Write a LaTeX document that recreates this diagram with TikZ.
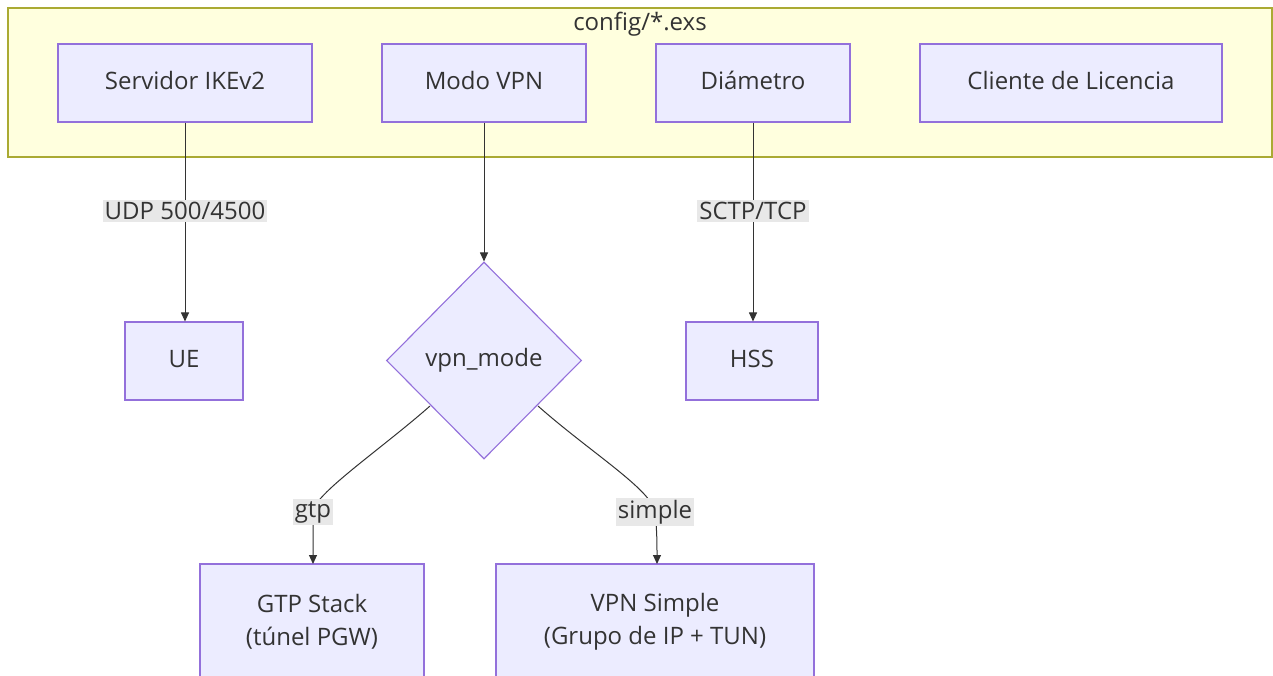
\documentclass[tikz,border=0pt]{standalone}
\usepackage{fontspec}
\setmainfont{Open Sans}
\usetikzlibrary{shapes.geometric,arrows.meta}
\definecolor{nodefill}{HTML}{ECECFF}
\definecolor{nodeline}{HTML}{9370DB}
\definecolor{clfill}{HTML}{FFFFDE}
\definecolor{clline}{HTML}{AAAA33}
\definecolor{txt}{HTML}{333333}
\definecolor{edge}{HTML}{333333}
\definecolor{lblbg}{HTML}{E8E8E8}
\begin{document}
\begin{tikzpicture}[x=1pt,y=-1pt,
  every node/.style={text=txt,font=\fontsize{24}{33}\selectfont},
  box/.style={draw=nodeline,fill=nodefill,line width=1.1pt,rectangle,inner sep=0pt,align=center},
  one/.style={text height=17pt,text depth=5pt},
  dia/.style={draw=nodeline,fill=nodefill,line width=1.1pt,diamond,aspect=1,inner sep=0pt,minimum width=195pt,minimum height=197pt},
  lbl/.style={fill=lblbg,inner sep=2pt},
  conn/.style={draw=edge,line width=1pt,-{Triangle[length=9pt,width=8pt]}}]
\useasboundingbox (0,0) rectangle (1273,675);
\fill[white] (0,0) rectangle (1273,675);
\begin{scope}
\clip (0,0) rectangle (1273,675);
\node[draw=clline,fill=clfill,line width=1.1pt,minimum width=1264pt,minimum height=149pt,inner sep=0pt] (cluster) at (640,82.5) {};
\node[one] (ctitle) at (640,24) {config/*.exs};
\node[box,one,minimum width=254pt,minimum height=78pt] (ike) at (185,83) {Servidor IKEv2};
\node[box,one,minimum width=204pt,minimum height=78pt] (modo) at (484,83) {Modo VPN};
\node[box,one,minimum width=194pt,minimum height=78pt] (diam) at (753,83) {Diámetro};
\node[box,one,minimum width=302pt,minimum height=78pt] (lic) at (1071,83) {Cliente de Licencia};
\node[box,one,minimum width=118pt,minimum height=78pt] (ue) at (184,361) {UE};
\node[dia,one] (vpn) at (484,360.5) {vpn\_mode};
\node[box,one,minimum width=132pt,minimum height=78pt] (hss) at (752,361) {HSS};
\node[box,minimum width=224pt,minimum height=116pt] (gtp) at (312,622) {GTP Stack\\(túnel PGW)};
\node[box,minimum width=318pt,minimum height=116pt] (simple) at (655,622) {VPN Simple\\(Grupo de IP + TUN)};
\draw[conn] (ike.south) -- node[lbl,pos=0.445] (l1) {UDP 500/4500} (ike.south |- ue.north);
\draw[conn] (modo.south) -- (vpn.north);
\draw[conn] (diam.south) -- node[lbl,pos=0.445] (l2) {SCTP/TCP} (diam.south |- hss.north);
\coordinate (g1) at (313,512);
\coordinate (s1) at (655,512);
\draw[conn] (vpn.south west) ++(-5,-4) coordinate (gs) .. controls (380,450) and (313,495) .. (g1) .. controls (313,530) and (313,545) .. (313,564);
\node[lbl] (lg) at (g1) {gtp};
\draw[conn] (vpn.south east) ++(5,-4) coordinate (ss) .. controls (590,452) and (652,490) .. (s1) .. controls (657,530) and (657,545) .. (657,564);
\node[lbl] (ls) at (s1) {simple};
\end{scope}
\end{tikzpicture}
\end{document}
